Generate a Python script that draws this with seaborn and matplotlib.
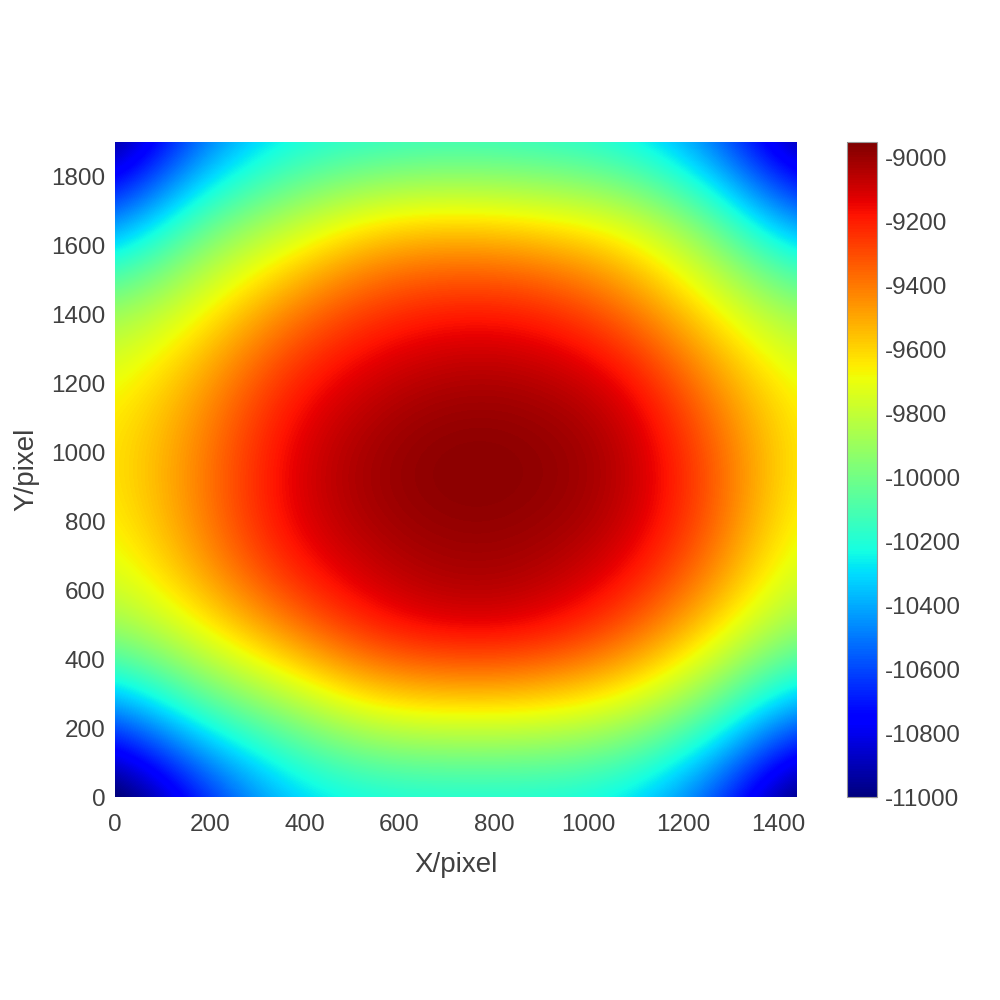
"""
Heat map of a pixel field (X/pixel vs Y/pixel) with a jet colour bar.
Values are a coarse grid read off the reference and smoothed by imshow.
"""

import numpy as np
import matplotlib
matplotlib.use("Agg")
import matplotlib.pyplot as plt
import seaborn as sns

# ===================================================
# DATA (grid nodes)
# ===================================================
X_NODES = [0, 180, 360, 540, 720, 900, 1080, 1260, 1440]
Y_NODES = [0, 237.5, 475, 712.5, 950, 1187.5, 1425, 1662.5, 1900]

# one row per Y node, bottom (y=0) first
ROW_Y0 = [-11200, -10750, -10370, -10280, -10270, -10270, -10310, -10600, -11150]
ROW_Y1 = [-10550, -10150, -9960, -9720, -9690, -9700, -9790, -10050, -10520]
ROW_Y2 = [-9900, -9690, -9420, -9180, -9090, -9120, -9300, -9610, -9920]
ROW_Y3 = [-9710, -9440, -9150, -9040, -8995, -9010, -9080, -9350, -9740]
ROW_Y4 = [-9640, -9410, -9110, -8990, -8950, -8965, -9025, -9290, -9670]
ROW_Y5 = [-9690, -9480, -9190, -9060, -9005, -9015, -9090, -9420, -9690]
ROW_Y6 = [-9920, -9700, -9430, -9250, -9185, -9205, -9380, -9660, -9920]
ROW_Y7 = [-10500, -10030, -9820, -9600, -9560, -9610, -9690, -9990, -10480]
ROW_Y8 = [-11100, -10550, -10280, -10230, -10200, -10220, -10280, -10520, -11050]

X_TICKS = [0, 200, 400, 600, 800, 1000, 1200, 1400]
Y_TICKS = [0, 200, 400, 600, 800, 1000, 1200, 1400, 1600, 1800]
CBAR_TICKS = [-9000, -9200, -9400, -9600, -9800, -10000,
              -10200, -10400, -10600, -10800, -11000]
V_MIN, V_MAX = -11000, -8950

# ===================================================
# STYLE
# ===================================================
sns.set_style("white")
plt.rcParams['font.family'] = ['Liberation Sans', 'DejaVu Sans']
plt.rcParams['axes.unicode_minus'] = False
TEXT_COLOR = "#404040"

def main():
    field = np.array([ROW_Y0, ROW_Y1, ROW_Y2, ROW_Y3, ROW_Y4,
                      ROW_Y5, ROW_Y6, ROW_Y7, ROW_Y8], dtype=float)
    dx = X_NODES[1] - X_NODES[0]
    dy = Y_NODES[1] - Y_NODES[0]
    x_max, y_max = X_NODES[-1], Y_NODES[-1]

    fig = plt.figure(figsize=(10, 10), dpi=100)
    ax = fig.add_axes([0.115, 0.203, 0.682, 0.655])
    cax = fig.add_axes([0.847, 0.203, 0.030, 0.655])

    cmap = matplotlib.colormaps["jet"]
    im = ax.imshow(field, origin="lower", cmap=cmap, vmin=V_MIN, vmax=V_MAX,
                   interpolation="bicubic", aspect="auto",
                   extent=[-dx / 2, x_max + dx / 2, -dy / 2, y_max + dy / 2])
    ax.set_xlim(0, x_max)
    ax.set_ylim(0, y_max)

    ax.set_xticks(X_TICKS)
    ax.set_yticks(Y_TICKS)
    ax.tick_params(length=0, labelsize=17.5, colors=TEXT_COLOR)
    ax.tick_params(axis="x", pad=12)
    ax.tick_params(axis="y", pad=7)
    sns.despine(ax=ax, left=True, bottom=True)
    ax.set_xlabel("X/pixel", fontsize=20, color=TEXT_COLOR, labelpad=12)
    ax.set_ylabel("Y/pixel", fontsize=20, color=TEXT_COLOR, labelpad=8)

    # -----> colour bar
    cb = fig.colorbar(im, cax=cax, ticks=CBAR_TICKS)
    cb.outline.set_edgecolor("#999999")
    cb.outline.set_linewidth(0.8)
    cax.tick_params(direction="in", length=4, width=0.8, color="#555555",
                    labelsize=17.5, labelcolor=TEXT_COLOR, pad=6)

    fig.savefig("out.png", dpi=100, facecolor="white")
    plt.close(fig)

if __name__ == "__main__":
    main()
